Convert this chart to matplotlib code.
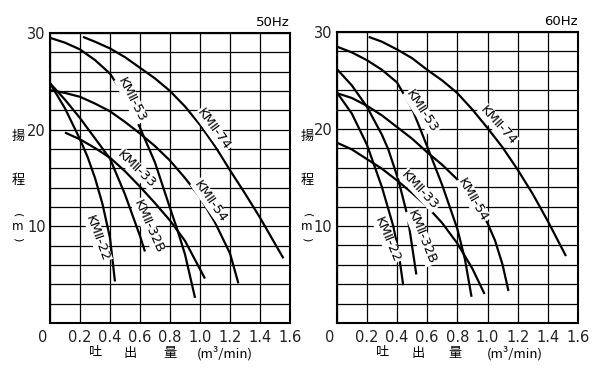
import matplotlib
matplotlib.use('Agg')
import matplotlib.pyplot as plt
import matplotlib.transforms as mtrans

plt.rcParams['font.family'] = ['DejaVu Sans', 'Noto Sans CJK JP']

# ---------------- data ----------------
x_ticks = [0, 0.2, 0.4, 0.6, 0.8, 1.0, 1.2, 1.4, 1.6]
x_tick_labels = ['0', '0.2', '0.4', '0.6', '0.8', '1.0', '1.2', '1.4', '1.6']
y_ticks = [10, 20, 30]
y_tick_labels = ['10', '20', '30']

# 50 Hz
hz50_74_q = [0.22, 0.3, 0.4, 0.5, 0.6, 0.7, 0.8, 0.9, 1.0, 1.1, 1.2, 1.3, 1.4, 1.5, 1.556]
hz50_74_h = [29.6, 29.1, 28.4, 27.5, 26.4, 25.3, 24.0, 22.4, 20.5, 18.3, 15.8, 13.4, 10.9, 8.2, 6.7]
hz50_53_q = [0, 0.1, 0.2, 0.3, 0.4, 0.5, 0.6, 0.7, 0.8, 0.85, 0.9, 0.967]
hz50_53_h = [29.5, 29.0, 28.3, 27.2, 25.8, 23.4, 20.2, 16.6, 11.9, 9.6, 7.1, 2.6]
hz50_54_q = [0, 0.1, 0.2, 0.3, 0.4, 0.5, 0.6, 0.7, 0.8, 0.9, 1.0, 1.1, 1.2, 1.256]
hz50_54_h = [24.1, 23.8, 23.4, 22.7, 21.9, 20.8, 19.6, 18.3, 16.8, 15.0, 13.0, 10.4, 7.2, 4.1]
hz50_33_q = [0.1, 0.2, 0.3, 0.4, 0.5, 0.6, 0.7, 0.8, 0.9, 1.033]
hz50_33_h = [19.7, 19.0, 18.1, 17.1, 15.7, 14.1, 12.4, 10.6, 8.5, 4.6]
hz50_32b_q = [0, 0.1, 0.2, 0.3, 0.4, 0.5, 0.6, 0.633]
hz50_32b_h = [24.8, 23.1, 21.2, 19.1, 17.0, 13.3, 9.0, 7.4]
hz50_22_q = [0, 0.1, 0.2, 0.25, 0.3, 0.35, 0.4, 0.433]
hz50_22_h = [24.8, 22.2, 19.0, 17.2, 15.0, 12.3, 8.8, 4.3]

# 60 Hz
hz60_74_q = [0.212, 0.3, 0.4, 0.5, 0.6, 0.7, 0.8, 0.9, 1.0, 1.1, 1.2, 1.3, 1.4, 1.52]
hz60_74_h = [29.5, 29.0, 28.2, 27.3, 26.1, 25.0, 23.7, 22.0, 20.1, 18.1, 15.8, 13.3, 10.5, 6.9]
hz60_53_q = [0, 0.1, 0.2, 0.3, 0.4, 0.5, 0.6, 0.7, 0.8, 0.85, 0.894]
hz60_53_h = [28.5, 27.9, 27.1, 26.1, 24.8, 22.1, 18.2, 14.2, 9.7, 6.6, 2.7]
hz60_54_q = [0, 0.1, 0.2, 0.3, 0.4, 0.5, 0.6, 0.7, 0.8, 0.9, 1.0, 1.05, 1.1, 1.139]
hz60_54_h = [23.7, 23.2, 22.4, 21.4, 20.2, 19.0, 17.6, 16.3, 14.8, 12.8, 10.3, 8.5, 6.0, 3.3]
hz60_33_q = [0, 0.1, 0.2, 0.3, 0.4, 0.5, 0.6, 0.7, 0.8, 0.9, 0.98]
hz60_33_h = [18.6, 17.9, 16.9, 15.9, 14.7, 13.4, 12.0, 10.3, 8.2, 5.6, 3.0]
hz60_32b_q = [0, 0.1, 0.2, 0.3, 0.342, 0.408, 0.47, 0.528]
hz60_32b_h = [26.2, 24.5, 22.3, 19.4, 17.9, 14.8, 11.0, 5.0]
hz60_22_q = [0, 0.1, 0.2, 0.3, 0.375, 0.41, 0.441]
hz60_22_h = [23.8, 21.6, 18.4, 14.0, 10.0, 7.3, 3.9]

names = ['KMⅡ-74', 'KMⅡ-53', 'KMⅡ-54', 'KMⅡ-33', 'KMⅡ-32B', 'KMⅡ-22']

curves50 = [(hz50_74_q, hz50_74_h), (hz50_53_q, hz50_53_h), (hz50_54_q, hz50_54_h),
            (hz50_33_q, hz50_33_h), (hz50_32b_q, hz50_32b_h), (hz50_22_q, hz50_22_h)]
curves60 = [(hz60_74_q, hz60_74_h), (hz60_53_q, hz60_53_h), (hz60_54_q, hz60_54_h),
            (hz60_33_q, hz60_33_h), (hz60_32b_q, hz60_32b_h), (hz60_22_q, hz60_22_h)]

# label placement (x, y, angle) per curve
labels50 = [(1.089, 20.0, -54), (0.544, 23.1, -63), (1.067, 12.6, -55),
            (0.578, 15.9, -44), (0.656, 10.0, -66), (0.318, 8.8, -70)]
labels60 = [(1.07, 20.4, -48), (0.563, 21.8, -57), (0.905, 12.7, -60),
            (0.552, 13.7, -47), (0.563, 8.8, -68), (0.335, 8.6, -67)]

fig = plt.figure(figsize=(6, 3.74), dpi=100)
W, H = 600.0, 374.0
axL = fig.add_axes([50 / W, 51 / H, 240 / W, 290 / H])
axR = fig.add_axes([336.7 / W, 51 / H, 241.3 / W, 291 / H])

cjk = ['Noto Sans CJK JP', 'DejaVu Sans']


def setup(ax, curves, labels, freq, fig_x0):
    ax.set_xlim(0, 1.6)
    ax.set_ylim(0, 30)
    ax.set_xticks(x_ticks)
    ax.set_xticklabels(x_tick_labels)
    ax.set_yticks(y_ticks)
    ax.set_yticklabels(y_tick_labels)
    ax.set_yticks(list(range(0, 31, 2)), minor=True)
    ax.grid(which='both', color='black', lw=0.9)
    ax.tick_params(which='both', length=0)
    ax.tick_params(axis='x', labelsize=10.5, pad=5, colors='#222222')
    ax.tick_params(axis='y', labelsize=10.5, pad=3, colors='#222222')
    ax.set_axisbelow(True)
    for s in ax.spines.values():
        s.set_linewidth(1.5)
        s.set_color('black')
    # origin label shifted left
    lab0 = ax.get_xticklabels()[0]
    lab0.set_transform(lab0.get_transform() + mtrans.ScaledTranslation(-7 / 100, 0, fig.dpi_scale_trans))
    for (q, h), name, (lx, ly, ang) in zip(curves, names, labels):
        ax.plot(q, h, color='black', lw=1.6, solid_capstyle='butt', solid_joinstyle='round', zorder=3)
        ax.text(lx, ly, name, rotation=ang, rotation_mode='anchor', ha='center', va='center',
                fontsize=9.5, color='black', zorder=5,
                bbox=dict(facecolor='white', edgecolor='none', pad=0.6))
    ax.text(1.0, 1.015, freq, transform=ax.transAxes, ha='right', va='bottom', fontsize=9.5)
    # axis titles
    fx = fig_x0
    fig.text(fx / W, 1 - 136 / H, '揚', family=cjk, fontsize=9.5, ha='center', va='center')
    fig.text(fx / W, 1 - 181 / H, '程', family=cjk, fontsize=9.5, ha='center', va='center')
    fig.text(fx / W, 1 - 215 / H, '(', fontsize=8, rotation=-90, ha='center', va='center')
    fig.text(fx / W, 1 - 227 / H, 'm', fontsize=8.5, ha='center', va='center')
    fig.text(fx / W, 1 - 239 / H, ')', fontsize=8, rotation=-90, ha='center', va='center')


setup(axL, curves50, labels50, '50Hz', 18)
setup(axR, curves60, labels60, '60Hz', 307)

for xs, tx in [((95, 130, 170), 225), ((382, 418, 455), 515)]:
    for x, ch in zip(xs, ['吐', '出', '量']):
        fig.text(x / W, 1 - 353 / H, ch, family=cjk, fontsize=9.5, ha='center', va='center')
    fig.text(tx / W, 1 - 353 / H, '(m³/min)', family=cjk, fontsize=9.5, ha='center', va='center')

fig.savefig('out.png', dpi=100)
